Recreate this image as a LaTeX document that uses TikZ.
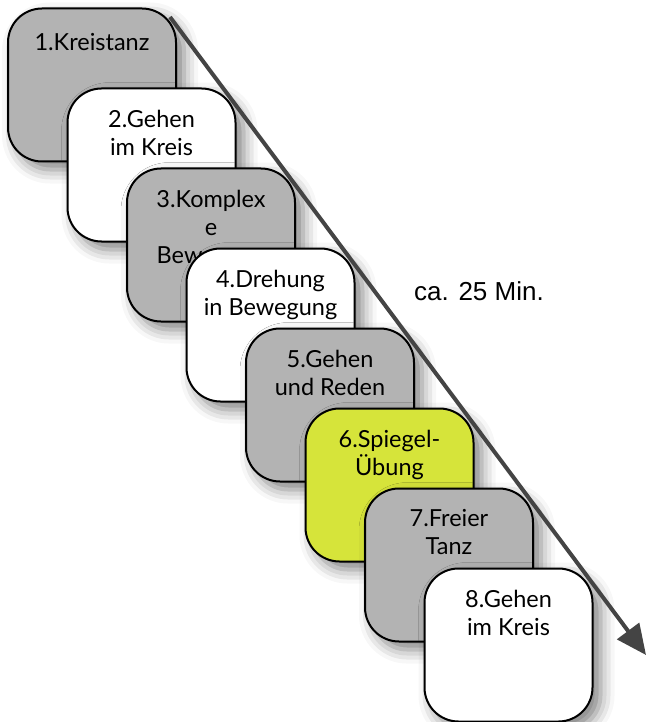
\documentclass[tikz,border=0pt]{standalone}
\usepackage{fontspec}
\setmainfont{Lato}
\newfontfamily\arialfont{Liberation Sans}
\usetikzlibrary{positioning,arrows.meta,shadows.blur}

\definecolor{boxgray}{RGB}{179,179,179}
\definecolor{boxgreen}{RGB}{214,228,58}
\definecolor{arrowgray}{RGB}{68,68,68}

\begin{document}
\begin{tikzpicture}[
        node distance=80pt and 59.5pt,
        on grid,
        % 步骤卡片样式
        stepbox/.style={
            rectangle,
            draw=black,
            line width=2pt,
            rounded corners=34pt,
            minimum width=168pt,
            minimum height=153pt,
            blur shadow={shadow xshift=8pt, shadow yshift=-8pt,
                shadow blur radius=14pt, shadow opacity=50}
        },
        % 卡片文字 (靠上)
        steptext/.style={
            anchor=north,
            yshift=-20pt,
            align=center,
            inner sep=2pt,
            font=\fontsize{23.5}{28}\selectfont
        },
        % 时间箭头
        time_arrow/.style={
            -{Triangle[length=30pt,width=27pt]},
            color=arrowgray,
            line width=4pt
        },
        time_label/.style={
            font=\arialfont\fontsize{26}{30}\selectfont
        }
    ]

    \useasboundingbox (0,0) rectangle (647pt,-722pt);

    % --- 1. 步骤卡片 (左上到右下) ---

    % 1. Kreistanz
    \node (s1) [stepbox, fill=boxgray] at (92pt,-85pt) {};
    \node (t1) [steptext, yshift=-4pt] at (s1.north) {1.Kreistanz};

    % 2. Gehen im Kreis
    \node (s2) [stepbox, fill=white, below right=of s1] {};
    \node (t2) [steptext] at (s2.north) {2.Gehen\\im Kreis};

    % 3. Komplexe Bewegung (被下一张卡片遮住)
    \node (s3) [stepbox, fill=boxgray, below right=of s2] {};
    \node (t3) [steptext] at (s3.north) {3.Komplex\\e\\Bewegung};

    % 4. Drehung
    \node (s4) [stepbox, fill=white, below right=of s3] {};
    \node (t4) [steptext] at (s4.north) {4.Drehung\\in Bewegung};

    % 5. Gehen und Reden
    \node (s5) [stepbox, fill=boxgray, below right=of s4] {};
    \node (t5) [steptext] at (s5.north) {5.Gehen\\und Reden};

    % 6. Spiegel-Übung (高亮)
    \node (s6) [stepbox, fill=boxgreen, below right=of s5] {};
    \node (t6) [steptext] at (s6.north) {6.Spiegel-\\Übung};

    % 7. Freier Tanz
    \node (s7) [stepbox, fill=boxgray, below right=of s6] {};
    \node (t7) [steptext] at (s7.north) {7.Freier\\Tanz};

    % 8. Gehen im Kreis
    \node (s8) [stepbox, fill=white, below right=of s7] {};
    \node (t8) [steptext] at (s8.north) {8.Gehen\\im Kreis};

    % --- 2. 时间轴 ---

    \coordinate (tstart) at (170pt,-17pt);
    \coordinate (tend) at (646pt,-655pt);
    \draw[time_arrow] (tstart) -- (tend);

    \node (dauer) [time_label] at (479pt,-291pt) {ca. 25 Min.};

\end{tikzpicture}
\end{document}
